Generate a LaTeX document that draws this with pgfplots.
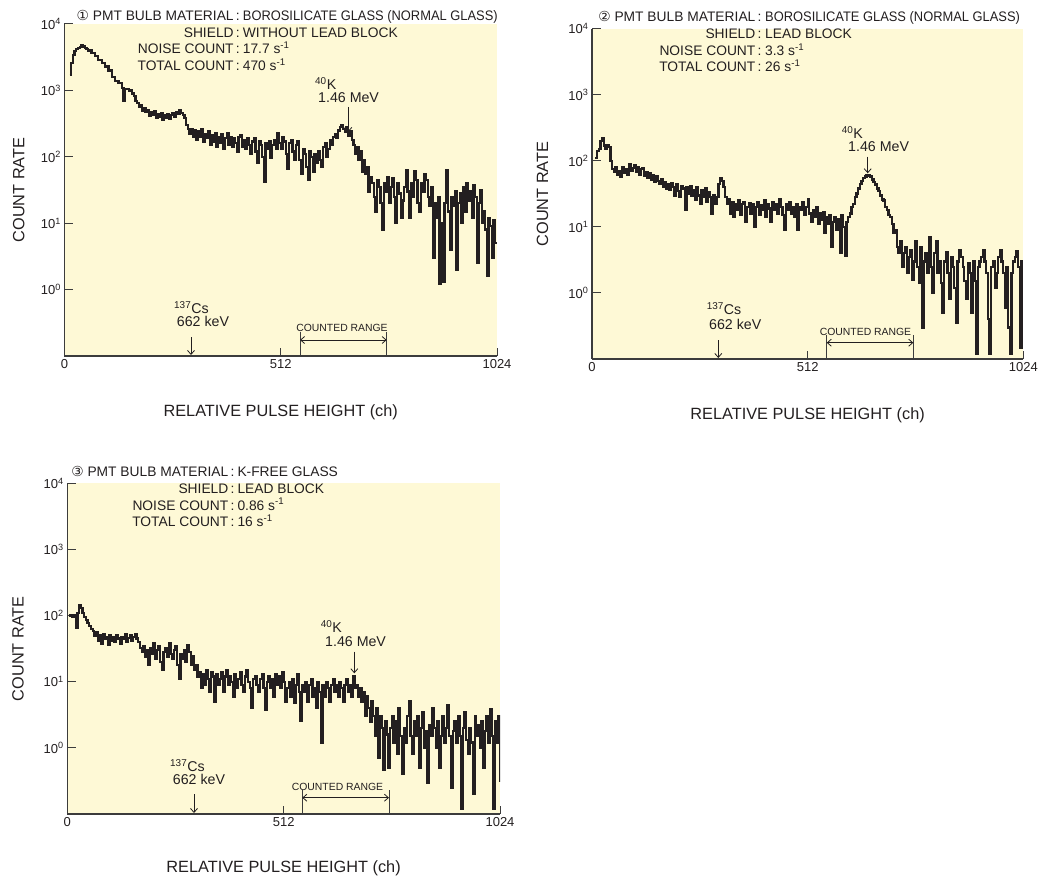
\documentclass[border=0pt]{standalone}
\usepackage{fontspec}
\setmainfont{Liberation Sans}
\newfontfamily\dejavu{DejaVu Sans}
\usepackage{graphicx}
\usepackage{pgfplots}
\pgfplotsset{compat=1.18}
\usetikzlibrary{arrows.meta}
\definecolor{cream}{RGB}{254,249,214}
\definecolor{ink}{RGB}{35,31,32}
\definecolor{axisgray}{RGB}{60,60,60}
\newcommand\hdr{\fontsize{13.8}{15}\selectfont}
\newcommand\ann{\fontsize{14.2}{16}\selectfont}
\newcommand\sml{\fontsize{10.4}{12}\selectfont}
\newcommand\lab{\fontsize{16.3}{18}\selectfont}

\pgfplotsset{mypanel/.style={
  scale only axis,
  xmin=0, xmax=1024, ymin=0.1, ymax=10000,
  axis x line=bottom, axis y line=left,
  axis line style={-, line width=1.3pt, draw=axisgray},
  tick align=inside, major tick length=8.5pt,
  tick style={line width=1pt, draw=axisgray},
  xtick={0,512,1024}, xticklabels={0,512,1024},
  ytick={1,10,100,1000,10000},
  yticklabels={10\textsuperscript{0},10\textsuperscript{1},10\textsuperscript{2},10\textsuperscript{3},10\textsuperscript{4}},
  yminorticks=false, xminorticks=false,
  axis background/.style={fill=cream},
  tick label style={font=\fontsize{13}{14}\selectfont, text=ink},
  clip=true,
}, myspec/.style={const plot mark left, ink, line width=2.3pt, mark=none, line join=miter}}

\begin{document}
\begin{tikzpicture}
\useasboundingbox (0pt,0pt) rectangle (1044pt,-877pt);

% ---------------- Panel 1 ----------------
\begin{axis}[ymode=log, mypanel, width=432.5pt, height=332pt, at={(64.5pt,-356pt)}, anchor=south west]
\addplot[myspec] coordinates {
(12,1700) (16,2600) (20,3400) (24,3900) (28,4200) (32,4300) (36,4500) (40,4800)
(44,4600) (48,4400) (52,4200) (56,4000) (64,3700) (72,3300) (80,2900) (88,2600)
(96,2300) (104,2000) (112,1600) (120,1400) (128,1300) (136,1100) (140,700) (144,1050) (152,1000)
(160,900) (164,820) (168,700) (172,640) (176,560) (180,600) (184,500) (188,540)
(192,470) (196,500) (200,420) (204,470) (208,430) (212,480) (216,390) (220,440)
(224,400) (228,450) (232,360) (236,420) (240,380) (244,440) (248,370) (252,430)
(256,450) (260,400) (264,470) (268,440) (272,500) (276,460) (280,430) (284,380)
(288,300) (292,260) (296,220) (300,260) (304,200) (308,250) (312,180) (316,240)
(320,200) (324,260) (328,170) (332,220) (336,190) (340,240) (344,150) (348,210)
(352,170) (356,230) (360,140) (364,200) (368,160) (372,220) (376,130) (380,190)
(384,230) (388,150) (392,200) (396,140) (400,190) (404,160) (408,120) (412,200)
(416,210) (420,140) (424,180) (428,130) (432,190) (436,150) (440,110) (444,170)
(448,190) (452,120) (456,80) (460,170) (464,150) (468,100) (472,42) (476,160)
(480,130) (484,170) (488,95) (492,150) (496,180) (500,130) (504,230) (508,160)
(512,130) (516,200) (520,170) (524,110) (528,65) (532,160) (536,180) (540,120)
(544,90) (548,150) (552,170) (556,90) (560,55) (564,130) (568,110) (572,70)
(576,45) (580,120) (584,100) (588,60) (592,110) (596,80) (600,120) (604,90)
(608,70) (612,140) (616,160) (620,100) (624,130) (628,180) (632,150) (636,200)
(640,220) (644,190) (648,250) (652,280) (656,300) (660,260) (664,240) (668,280)
(672,210) (676,240) (680,180) (684,150) (688,110) (692,140) (696,90) (700,120)
(704,60) (708,90) (712,55) (716,70) (720,30) (724,50) (728,40) (732,25)
(736,15) (740,45) (744,35) (748,20) (752,8) (756,40) (760,30) (764,50)
(768,20) (772,35) (776,48) (780,25) (784,10) (788,40) (792,28) (796,12)
(800,22) (804,35) (808,62) (812,30) (816,12) (820,40) (824,25) (828,60)
(832,45) (836,20) (840,15) (844,40) (848,30) (852,55) (856,45) (860,25)
(864,18) (868,35) (872,3) (876,20) (880,12) (884,25) (888,1.2) (892,10)
(896,1.3) (900,20) (904,62) (908,15) (912,4) (916,25) (920,18) (924,30)
(928,2) (932,20) (936,28) (940,10) (944,35) (948,15) (952,40) (956,22)
(960,30) (964,12) (968,38) (972,25) (976,2.5) (980,20) (984,32) (988,10)
(992,15) (996,8) (1000,1.6) (1004,12) (1008,9) (1012,3) (1016,11) (1020,5) (1024,5)
};
\end{axis}

% ---------------- Panel 2 ----------------
\begin{axis}[ymode=log, mypanel, width=431.3pt, height=330.3pt, at={(592pt,-359pt)}, anchor=south west]
\addplot[myspec] coordinates {
(8,110) (12,140) (16,150) (20,200) (24,220) (28,170) (32,150) (36,175)
(40,160) (44,100) (48,75) (52,68) (56,80) (60,62) (64,70) (68,58)
(72,80) (76,65) (80,75) (84,62) (88,90) (92,70) (96,78) (100,85)
(104,68) (108,80) (112,62) (116,75) (120,78) (124,60) (128,68) (132,55)
(136,65) (140,52) (144,60) (148,48) (152,58) (156,50) (160,45) (164,52)
(168,40) (172,48) (176,38) (180,45) (184,36) (188,46) (192,40) (196,30)
(200,45) (204,35) (208,28) (212,42) (216,38) (220,18) (224,40) (228,32)
(232,42) (236,30) (240,36) (244,26) (248,40) (252,30) (256,22) (260,36)
(264,28) (268,38) (272,24) (276,34) (280,28) (284,16) (288,30) (292,22)
(296,28) (300,45) (304,55) (308,50) (312,40) (316,28) (320,22) (324,26)
(328,16) (332,24) (336,14) (340,22) (344,18) (348,25) (352,15) (356,22)
(360,24) (364,12) (368,20) (372,23) (376,16) (380,22) (384,10) (388,20)
(392,24) (396,15) (400,21) (404,18) (408,25) (412,14) (416,22) (420,19)
(424,12) (428,24) (432,18) (436,22) (440,16) (444,26) (448,20) (452,15)
(456,9) (460,22) (464,18) (468,24) (472,16) (476,20) (480,14) (484,22)
(488,9) (492,20) (496,18) (500,24) (504,15) (508,20) (512,26) (516,16)
(520,12) (524,18) (528,14) (532,20) (536,11) (540,16) (544,13) (548,17)
(552,8) (556,14) (560,11) (564,15) (568,5) (572,12) (576,14) (580,9)
(584,13) (588,4) (592,15) (596,10) (600,3.7) (604,12) (608,14) (612,16)
(616,20) (620,22) (624,28) (628,32) (632,38) (636,45) (640,50) (644,55)
(648,58) (652,60) (656,60) (660,58) (664,52) (668,48) (672,44) (676,38)
(680,35) (684,30) (688,26) (692,25) (696,20) (700,18) (704,15) (708,14)
(712,11) (716,8) (720,9) (724,5) (728,4) (732,6) (736,2.5) (740,4)
(744,5) (748,2) (752,3.5) (756,4.5) (760,1.6) (764,3) (768,6) (772,2.5)
(776,1.4) (780,5) (784,0.3) (788,3) (792,4) (796,2) (800,7) (804,2.5)
(808,1) (812,4) (816,6) (820,2) (824,3) (828,1.4) (832,0.5) (836,3)
(840,4.2) (844,2) (848,0.8) (852,3.5) (856,2.5) (860,1.2) (864,0.35) (868,3)
(872,4.5) (876,3.5) (880,2.5) (884,1.5) (888,0.8) (892,2.8) (896,2) (900,0.5)
(904,3) (908,1.5) (912,0.12) (916,2.5) (920,3) (924,3.5) (928,4.4) (932,3)
(936,2) (940,0.4) (944,0.12) (948,2.5) (952,3) (956,1.2) (960,2) (964,3.5)
(968,4.4) (972,3) (976,2) (980,0.6) (984,2.5) (988,0.3) (992,0.12) (996,2)
(1000,3) (1004,3.5) (1008,4.3) (1012,2.5) (1016,0.15) (1020,3) (1024,3)
};
\end{axis}

% ---------------- Panel 3 ----------------
\begin{axis}[ymode=log, mypanel, width=432.7pt, height=330.7pt, at={(67.3pt,-814pt)}, anchor=south west]
\addplot[myspec] coordinates {
(4,100) (8,100) (12,95) (16,100) (20,65) (24,110) (28,145) (32,130)
(36,110) (40,95) (44,85) (48,78) (52,70) (56,62) (60,58) (64,50)
(68,56) (72,42) (76,50) (80,38) (84,52) (88,44) (92,48) (96,36)
(100,50) (104,42) (108,48) (112,40) (116,50) (120,45) (124,38) (128,48)
(132,44) (136,52) (140,40) (144,46) (148,50) (152,42) (156,48) (160,52)
(164,45) (168,40) (172,32) (176,28) (180,35) (184,24) (188,30) (192,18)
(196,32) (200,26) (204,38) (208,22) (212,30) (216,34) (220,20) (224,15)
(228,28) (232,32) (236,24) (240,38) (244,26) (248,22) (252,30) (256,34)
(260,18) (264,11) (268,26) (272,22) (276,30) (280,20) (284,36) (288,28)
(292,18) (296,24) (300,15) (304,18) (308,12) (312,14) (316,8) (320,13)
(324,9) (328,15) (332,11) (336,7) (340,14) (344,12) (348,5) (352,13)
(356,9) (360,11) (364,14) (368,7) (372,12) (376,15) (380,9) (384,12)
(388,10) (392,6) (396,13) (400,8) (404,11) (408,14) (412,9) (416,7)
(420,12) (424,15) (428,10) (432,8) (436,4) (440,11) (444,12) (448,9)
(452,7) (456,11) (460,13) (464,8) (468,3.7) (472,10) (476,12) (480,8)
(484,11) (488,6) (492,13) (496,9) (500,12) (504,8) (508,14) (512,10)
(516,5) (520,8) (524,10) (528,6) (532,11) (536,4.8) (540,9) (544,13)
(548,7) (552,2.6) (556,9) (560,7) (564,10) (568,5) (572,9) (576,11)
(580,6) (584,8) (588,4) (592,10) (596,7) (600,1.2) (604,9) (608,6)
(612,10) (616,8) (620,5) (624,9) (628,11) (632,7) (636,9) (640,6)
(644,10) (648,8) (652,5) (656,9) (660,11) (664,7) (668,9) (672,6)
(676,12) (680,8) (684,9) (688,6) (692,8) (696,5) (700,7) (704,3)
(708,6) (712,4) (716,2.5) (720,5) (724,3) (728,1.5) (732,4) (736,0.7)
(740,3) (744,2) (748,0.46) (752,2.5) (756,1.6) (760,0.5) (764,2) (768,3)
(772,1.2) (776,2.5) (780,0.8) (784,4) (788,1.5) (792,0.4) (796,2) (800,1.2)
(804,3) (808,5) (812,1.5) (816,0.8) (820,2.5) (824,1.5) (828,3) (832,0.5)
(836,2) (840,3.5) (844,1) (848,1.8) (852,0.3) (856,2.2) (860,1.5) (864,4)
(868,2) (872,1) (876,2.5) (880,0.5) (884,1.5) (888,3) (892,1.2) (896,2)
(900,4.5) (904,1.5) (908,0.25) (912,1.8) (916,2.5) (920,1.2) (924,3) (928,1.5)
(932,0.12) (936,2) (940,3.5) (944,1.3) (948,0.8) (952,2) (956,1.2) (960,0.2)
(964,3) (968,1.5) (972,2.2) (976,1) (980,2.5) (984,0.5) (988,1.8) (992,3)
(996,1.2) (1000,3.8) (1004,1.5) (1008,0.12) (1012,2.5) (1016,1.2) (1020,3) (1024,0.3)
};
\end{axis}

% ---------------- Annotations (pixel coordinates) ----------------
\begin{scope}[x=1pt, y=-1pt, color=ink, every node/.style={inner sep=0pt, text=ink}]
\tikzset{ar/.style={line width=0.8pt, -{Straight Barb[length=4pt,width=7pt]}},
         rr/.style={line width=0.8pt, {Straight Barb[length=4pt,width=7pt]}-{Straight Barb[length=4pt,width=7pt]}},
         vl/.style={line width=0.9pt, draw=axisgray}}
% Panel 1 header
\node[anchor=base east, font=\hdr] at (240,20.3) {{\dejavu ①} PMT BULB MATERIAL\,:};
\node[anchor=base west, font=\hdr] at (242.7,20.3) {\scalebox{0.934}[1]{BOROSILICATE GLASS (NORMAL GLASS)}};
\node[anchor=base east, font=\hdr] at (240,37.3) {SHIELD\,:};
\node[anchor=base west, font=\hdr] at (242.7,37.3) {WITHOUT LEAD BLOCK};
\node[anchor=base east, font=\hdr] at (240,54) {NOISE COUNT\,:};
\node[anchor=base west, font=\hdr] at (242.7,54) {17.7 s\textsuperscript{-1}};
\node[anchor=base east, font=\hdr] at (240,70.7) {TOTAL COUNT\,:};
\node[anchor=base west, font=\hdr] at (242.7,70.7) {470 s\textsuperscript{-1}};
% Panel 1 annotations
\node[anchor=base west, font=\ann] at (315,89.5) {\textsuperscript{40}K};
\node[anchor=base west, font=\ann] at (318,102.5) {1.46 MeV};
\draw[ar] (348.3,107) -- (348.3,132);
\node[anchor=base west, font=\ann] at (174,313.3) {\textsuperscript{137}Cs};
\node[anchor=base west, font=\ann] at (176.7,326.7) {662 keV};
\draw[ar] (191,337) -- (191,355);
\node[anchor=base, font=\sml] at (342,331.7) {COUNTED RANGE};
\draw[vl] (300,331.7) -- (300,356);
\draw[vl] (386.7,331.7) -- (386.7,356);
\draw[rr] (300,340) -- (386.7,340);
\node[anchor=base, font=\lab] at (280.75,416.5) {RELATIVE PULSE HEIGHT (ch)};
\node[anchor=base, rotate=90, font=\lab] at (24.3,190) {COUNT RATE};

% Panel 2 header
\node[anchor=base east, font=\hdr] at (761.7,22) {{\dejavu ②} PMT BULB MATERIAL\,:};
\node[anchor=base west, font=\hdr] at (765,22) {\scalebox{0.934}[1]{BOROSILICATE GLASS (NORMAL GLASS)}};
\node[anchor=base east, font=\hdr] at (761.7,39) {SHIELD\,:};
\node[anchor=base west, font=\hdr] at (765,39) {LEAD BLOCK};
\node[anchor=base east, font=\hdr] at (761.7,55.5) {NOISE COUNT\,:};
\node[anchor=base west, font=\hdr] at (765,55.5) {3.3 s\textsuperscript{-1}};
\node[anchor=base east, font=\hdr] at (761.7,72) {TOTAL COUNT\,:};
\node[anchor=base west, font=\hdr] at (765,72) {26 s\textsuperscript{-1}};
% Panel 2 annotations
\node[anchor=base west, font=\ann] at (841.7,139) {\textsuperscript{40}K};
\node[anchor=base west, font=\ann] at (848,152) {1.46 MeV};
\draw[ar] (867.7,156.7) -- (867.7,173.3);
\node[anchor=base west, font=\ann] at (706.7,315) {\textsuperscript{137}Cs};
\node[anchor=base west, font=\ann] at (709,330) {662 keV};
\draw[ar] (718.3,340) -- (718.3,358);
\node[anchor=base, font=\sml] at (865.5,335) {COUNTED RANGE};
\draw[vl] (826.7,335) -- (826.7,359);
\draw[vl] (913.3,335) -- (913.3,359);
\draw[rr] (826.7,342.7) -- (913.3,342.7);
\node[anchor=base, font=\lab] at (807.6,419.5) {RELATIVE PULSE HEIGHT (ch)};
\node[anchor=base, rotate=90, font=\lab] at (548,194) {COUNT RATE};

% Panel 3 header
\node[anchor=base east, font=\hdr] at (234.7,476.5) {{\dejavu ③} PMT BULB MATERIAL\,:};
\node[anchor=base west, font=\hdr] at (237.3,476.5) {K-FREE GLASS};
\node[anchor=base east, font=\hdr] at (234.7,493) {SHIELD\,:};
\node[anchor=base west, font=\hdr] at (237.3,493) {LEAD BLOCK};
\node[anchor=base east, font=\hdr] at (234.7,510) {NOISE COUNT\,:};
\node[anchor=base west, font=\hdr] at (237.3,510) {0.86 s\textsuperscript{-1}};
\node[anchor=base east, font=\hdr] at (234.7,526.5) {TOTAL COUNT\,:};
\node[anchor=base west, font=\hdr] at (237.3,526.5) {16 s\textsuperscript{-1}};
% Panel 3 annotations
\node[anchor=base west, font=\ann] at (320.7,632.7) {\textsuperscript{40}K};
\node[anchor=base west, font=\ann] at (325,646.7) {1.46 MeV};
\draw[ar] (354.3,651.7) -- (354.3,673.3);
\node[anchor=base west, font=\ann] at (170,771.7) {\textsuperscript{137}Cs};
\node[anchor=base west, font=\ann] at (172.7,784) {662 keV};
\draw[ar] (194,794.3) -- (194,813);
\node[anchor=base, font=\sml] at (337.5,790) {COUNTED RANGE};
\draw[vl] (302.3,790) -- (302.3,814);
\draw[vl] (389,790) -- (389,814);
\draw[rr] (302.3,797.7) -- (389,797.7);
\node[anchor=base, font=\lab] at (283.6,872.5) {RELATIVE PULSE HEIGHT (ch)};
\node[anchor=base, rotate=90, font=\lab] at (23.5,648.7) {COUNT RATE};
\end{scope}
\end{tikzpicture}
\end{document}
